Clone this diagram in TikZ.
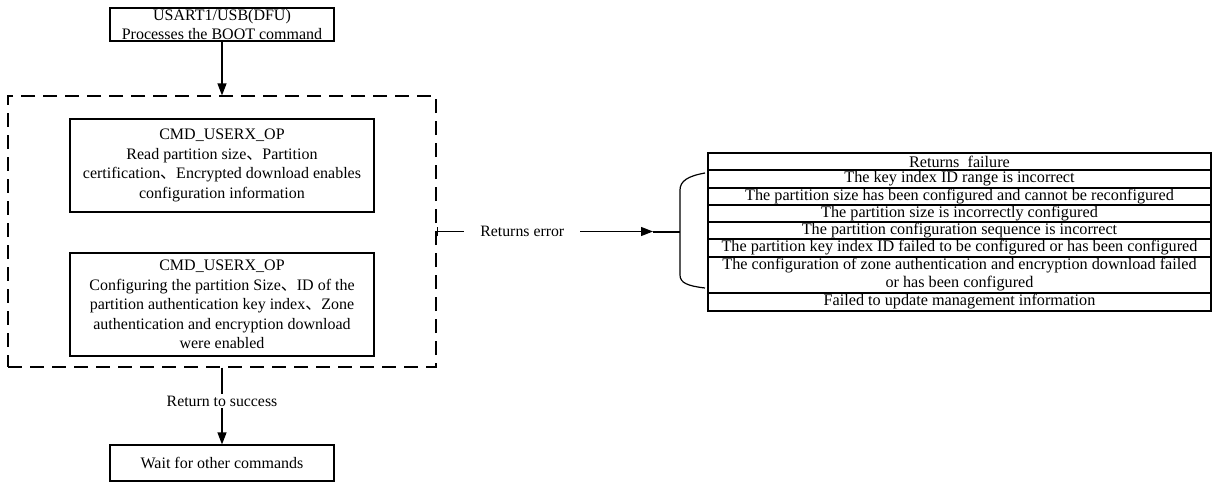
\documentclass[tikz,border=0pt]{standalone}
\usepackage{fontspec}
\setmainfont{Liberation Serif}
\newfontfamily\cjk{Noto Sans CJK SC}
\usetikzlibrary{arrows.meta}
\newcommand{\dun}{{\cjk 、}}

\begin{document}
\begin{tikzpicture}[x=1pt, y=-1pt, line width=1.2pt,
  box/.style={draw, rectangle, inner sep=0pt, align=center,
    font=\fontsize{16}{19.5}\selectfont},
  row/.style={draw, rectangle, inner sep=0pt, minimum width=503pt, align=center,
    font=\fontsize{16.2}{18}\selectfont},
  group/.style={draw, rectangle, dash pattern=on 14pt off 8pt, inner sep=0pt},
  flow/.style={-{Triangle[length=12pt,width=9pt]}},
  lbl/.style={fill=white, font=\fontsize{15.8}{19.5}\selectfont}
]
\useasboundingbox (0,0) rectangle (1213,483);

% main flow
\node[box, minimum width=224pt, minimum height=33pt] (boot) at (222,24.5)
  {USART1/USB(DFU)\\Processes the BOOT command};
\node[group, minimum width=428pt, minimum height=271pt] (grp) at (222,231.5) {};
\node[box, minimum width=304pt, minimum height=93pt] (read) at (222,165.5)
  {CMD\_USERX\_OP\\Read partition size\dun Partition\\certification\dun Encrypted download enables\\configuration information};
\node[box, minimum width=304pt, minimum height=103pt] (conf) at (222,304.5)
  {CMD\_USERX\_OP\\Configuring the partition Size\dun ID of the\\partition authentication key index\dun Zone\\authentication and encryption download\\were enabled};
\node[box, minimum width=224pt, minimum height=36pt] (wait) at (222,463)
  {Wait for other commands};

\draw[flow] (boot) -- (grp.north);
\draw[flow] (grp.south) -- node[lbl, pos=0.436, inner xsep=1pt, inner ysep=2pt] {Return to success} (wait.north);

% error path
\coordinate (tip) at (653,231.5);
\coordinate (bmid) at (680,231.5);
\coordinate (btop) at (705,173);
\coordinate (bbot) at (705,288);
\draw[{Bar[width=9pt]}-{Triangle[length=12pt,width=9pt]}] (grp.east) --
  node[lbl, pos=0.396, inner xsep=16pt, inner ysep=1pt] {Returns error} (tip);
\draw[line width=2pt] (tip) -- (bmid);
\draw (btop) .. controls (688,176) and (680,181) .. (680,190) -- (680,275)
  .. controls (680,283) and (688,286) .. (bbot);

% failure list
\node[row, minimum height=17pt] (f0) at (959.5,161.5) {Returns\ \ failure};
\node[row, minimum height=18pt] (f1) at (959.5,179) {The key index ID range is incorrect};
\node[row, minimum height=17pt] (f2) at (959.5,196.5) {The partition size has been configured and cannot be reconfigured};
\node[row, minimum height=17pt] (f3) at (959.5,213.5) {The partition size is incorrectly configured};
\node[row, minimum height=17pt] (f4) at (959.5,230.5) {The partition configuration sequence is incorrect};
\node[row, minimum height=18pt] (f5) at (959.5,248) {The partition key index ID failed to be configured or has been configured};
\node[row, minimum height=36pt] (f6) at (959.5,275) {The configuration of zone authentication and encryption download failed\\or has been configured};
\node[row, minimum height=18pt] (f7) at (959.5,302) {Failed to update management information};
\end{tikzpicture}
\end{document}
